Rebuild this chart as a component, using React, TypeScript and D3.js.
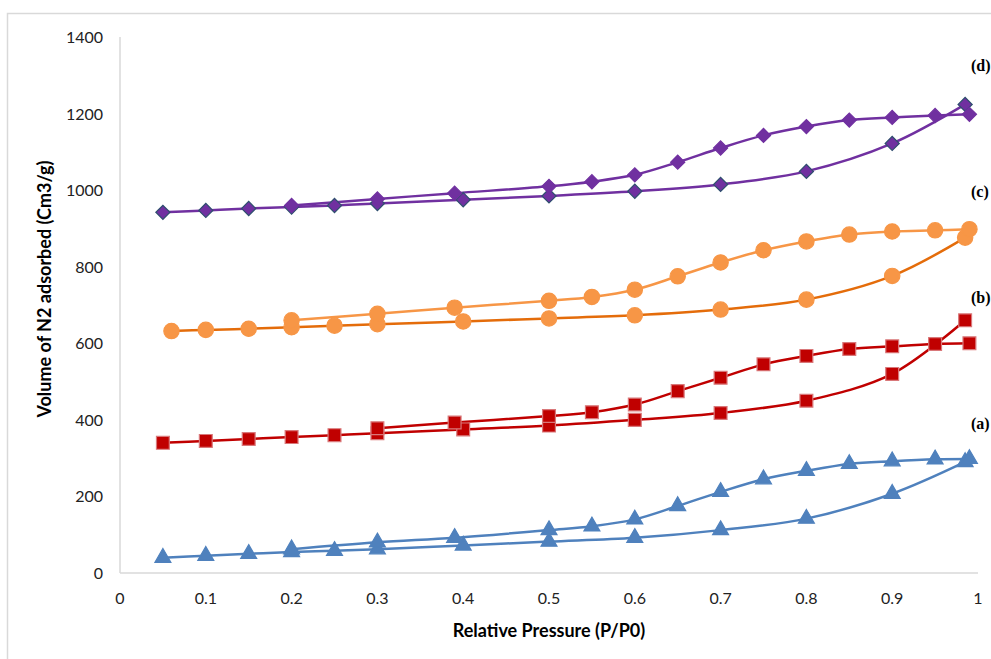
import { useEffect, useRef } from 'react';
import * as d3 from 'd3';

const W = 991;
const H = 659;

const xTicks = [0, 0.1, 0.2, 0.3, 0.4, 0.5, 0.6, 0.7, 0.8, 0.9, 1];
const yTicks = [0, 200, 400, 600, 800, 1000, 1200, 1400];

// adsorption (lower) and desorption (upper) branches
const adsP = [0.05, 0.1, 0.15, 0.2, 0.25, 0.3, 0.4, 0.5, 0.6, 0.7, 0.8, 0.9, 0.985];
const desP = [0.99, 0.95, 0.9, 0.85, 0.8, 0.75, 0.7, 0.65, 0.6, 0.55, 0.5, 0.39, 0.3, 0.2];

const aAds = [40, 45, 50, 55, 58, 62, 72, 82, 92, 112, 142, 207, 290];
const aDes = [298, 297, 292, 285, 267, 245, 212, 175, 140, 122, 112, 92, 80, 62];

const bAds = [340, 345, 350, 355, 360, 365, 375, 385, 400, 418, 450, 520, 660];
const bDes = [600, 598, 592, 585, 567, 545, 510, 475, 440, 420, 410, 393, 378];

const cAdsP = [0.06, 0.1, 0.15, 0.2, 0.25, 0.3, 0.4, 0.5, 0.6, 0.7, 0.8, 0.9, 0.985];
const cAds = [632, 635, 638, 642, 646, 650, 657, 665, 673, 688, 714, 776, 876];
const cDes = [898, 895, 892, 884, 866, 843, 811, 775, 740, 721, 711, 693, 677, 660];

const dAds = [942, 947, 952, 956, 960, 965, 975, 985, 997, 1015, 1049, 1122, 1224];
const dDes = [1198, 1195, 1190, 1183, 1166, 1143, 1110, 1073, 1040, 1022, 1010, 992, 977, 960];

const labels = [
  { text: '(a)', v: 375 },
  { text: '(b)', v: 705 },
  { text: '(c)', v: 982 },
  { text: '(d)', v: 1311 },
];

export default function App() {
  const ref = useRef<SVGSVGElement>(null);

  useEffect(() => {
    const svg = d3.select(ref.current);
    svg.selectAll('*').remove();

    const x = d3.scaleLinear().domain([0, 1]).range([120, 978]);
    const y = d3.scaleLinear().domain([0, 1400]).range([573, 37]);

    // outer frame
    svg.append('rect')
      .attr('x', 7.5).attr('y', 13.5)
      .attr('width', W).attr('height', H)
      .attr('fill', 'none').attr('stroke', '#d9d9d9').attr('stroke-width', 1.5);

    // axes lines
    svg.append('line')
      .attr('x1', x(0)).attr('x2', x(0)).attr('y1', y(1400)).attr('y2', y(0))
      .attr('stroke', '#d9d9d9').attr('stroke-width', 1.5);
    svg.append('line')
      .attr('x1', x(0)).attr('x2', x(1)).attr('y1', y(0)).attr('y2', y(0))
      .attr('stroke', '#d9d9d9').attr('stroke-width', 1.5);

    const font = 'Lato, Open Sans, sans-serif';

    svg.append('g').selectAll('text').data(yTicks).join('text')
      .attr('x', 103).attr('y', d => y(d) + 6)
      .attr('text-anchor', 'end')
      .attr('font-family', font).attr('font-size', 16).attr('fill', '#222')
      .text(d => d);

    svg.append('g').selectAll('text').data(xTicks).join('text')
      .attr('x', d => x(d)).attr('y', 604)
      .attr('text-anchor', 'middle')
      .attr('font-family', font).attr('font-size', 16).attr('fill', '#222')
      .text(d => d);

    svg.append('text')
      .attr('x', 549).attr('y', 637)
      .attr('text-anchor', 'middle')
      .attr('font-family', font).attr('font-size', 18).attr('font-weight', 'bold')
      .text('Relative Pressure (P/P0)');

    svg.append('text')
      .attr('transform', 'translate(51,289) rotate(-90)')
      .attr('text-anchor', 'middle')
      .attr('font-family', font).attr('font-size', 18).attr('font-weight', 'bold')
      .text('Volume of N2 adsorbed (Cm3/g)');

    const line = d3.line<[number, number]>()
      .x(d => x(d[0])).y(d => y(d[1]))
      .curve(d3.curveCatmullRom.alpha(0.5));

    const sym = (type: d3.SymbolType, size: number) => d3.symbol().type(type).size(size)();

    type Branch = {
      p: number[]; v: number[]; line: string; fill: string; stroke: string;
      shape: d3.SymbolType; size: number; rotate?: number;
    };

    const branches: Branch[] = [
      { p: adsP, v: aAds, line: '#4f81bd', fill: '#4f81bd', stroke: '#4f81bd', shape: d3.symbolTriangle, size: 110 },
      { p: desP, v: aDes, line: '#4f81bd', fill: '#4f81bd', stroke: '#4f81bd', shape: d3.symbolTriangle, size: 110 },
      { p: adsP, v: bAds, line: '#c00000', fill: '#c00000', stroke: '#d9787a', shape: d3.symbolSquare, size: 165 },
      { p: desP.slice(0, 13), v: bDes, line: '#c00000', fill: '#c00000', stroke: '#d9787a', shape: d3.symbolSquare, size: 165 },
      { p: cAdsP, v: cAds, line: '#e46c0a', fill: '#f79646', stroke: '#f79646', shape: d3.symbolCircle, size: 185 },
      { p: desP, v: cDes, line: '#f79646', fill: '#f79646', stroke: '#f79646', shape: d3.symbolCircle, size: 185 },
      { p: adsP, v: dAds, line: '#7030a0', fill: '#7030a0', stroke: '#2e4f6e', shape: d3.symbolSquare, size: 100, rotate: 45 },
      { p: desP, v: dDes, line: '#7030a0', fill: '#7030a0', stroke: '#7030a0', shape: d3.symbolSquare, size: 100, rotate: 45 },
    ];

    branches.forEach(b => {
      const pts = b.p.map((p, i) => [p, b.v[i]] as [number, number]);
      svg.append('path')
        .attr('d', line(pts))
        .attr('fill', 'none').attr('stroke', b.line).attr('stroke-width', 2.5);
    });

    branches.forEach(b => {
      const pts = b.p.map((p, i) => [p, b.v[i]] as [number, number]);
      svg.append('g').selectAll('path').data(pts).join('path')
        .attr('d', sym(b.shape, b.size))
        .attr('transform', d => `translate(${x(d[0])},${y(d[1])}) rotate(${b.rotate ?? 0})`)
        .attr('fill', b.fill).attr('stroke', b.stroke).attr('stroke-width', 1.2);
    });

    svg.append('g').selectAll('text').data(labels).join('text')
      .attr('x', 971).attr('y', d => y(d.v))
      .attr('font-family', 'Liberation Serif, serif').attr('font-size', 16).attr('font-weight', 'bold')
      .text(d => d.text);
  }, []);

  return (
    <>
      <style>{'body{margin:0;background:#fff}'}</style>
      <svg ref={ref} width={W} height={H} style={{ display: 'block' }} />
    </>
  );
}
